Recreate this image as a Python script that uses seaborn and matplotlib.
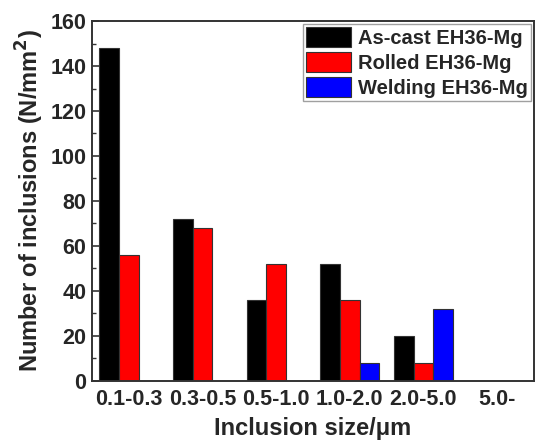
import matplotlib
matplotlib.use("Agg")
import matplotlib.pyplot as plt
import pandas as pd
import seaborn as sns
from matplotlib.ticker import MultipleLocator

categories = ["0.1-0.3", "0.3-0.5", "0.5-1.0", "1.0-2.0", "2.0-5.0", "5.0-"]
series = ["As-cast EH36-Mg", "Rolled EH36-Mg", "Welding EH36-Mg"]
as_cast = [148, 72, 36, 52, 20, 0]
rolled = [56, 68, 52, 36, 8, 0]
welding = [0, 0, 0, 8, 32, 0]
colors = ["#000000", "#ff0000", "#0000ff"]

rows = []
for name, values in zip(series, [as_cast, rolled, welding]):
    for cat, v in zip(categories, values):
        rows.append({"size": cat, "count": v, "sample": name})
df = pd.DataFrame(rows)

sns.set_style("ticks")
plt.rcParams["font.family"] = ["Liberation Sans", "DejaVu Sans"]
plt.rcParams["font.weight"] = "bold"

fig = plt.figure(figsize=(5.35, 4.41), dpi=100)
ax = fig.add_axes([0.172, 0.137, 0.826, 0.815])

sns.barplot(
    data=df,
    x="size",
    y="count",
    hue="sample",
    order=categories,
    hue_order=series,
    palette=colors,
    width=0.8,
    edgecolor="#333333",
    linewidth=0.8,
    saturation=1,
    ax=ax,
)

ax.set_xlim(-0.5, 5.5)
ax.set_ylim(0, 160)
ax.yaxis.set_major_locator(MultipleLocator(20))
ax.yaxis.set_minor_locator(MultipleLocator(10))
ax.tick_params(axis="y", which="major", direction="in", length=5, width=1.2,
               labelsize=15.5, color="#333333", pad=4)
ax.tick_params(axis="y", which="minor", direction="in", length=3, width=1.0,
               color="#333333")
ax.tick_params(axis="x", length=0, labelsize=15.5, pad=6)
for lbl in ax.get_xticklabels() + ax.get_yticklabels():
    lbl.set_fontweight("bold")

for side in ["left", "bottom", "top", "right"]:
    ax.spines[side].set_visible(True)
    ax.spines[side].set_linewidth(1.4)
    ax.spines[side].set_color("#333333")

ax.set_xlabel("Inclusion size/\u03bcm", fontsize=17, fontweight="bold", labelpad=5)
ax.set_ylabel("Number of inclusions (N/mm$^\\mathbf{2}$)", fontsize=17,
              fontweight="bold", labelpad=3)

leg = ax.legend(
    loc="upper right",
    fontsize=14.5,
    frameon=True,
    fancybox=False,
    edgecolor="#888888",
    handlelength=2.25,
    handleheight=1.15,
    handletextpad=0.35,
    labelspacing=0.2,
    borderpad=0.15,
    borderaxespad=0.15,
    title=None,
)
leg.get_frame().set_linewidth(1.0)
for t in leg.get_texts():
    t.set_fontweight("bold")

fig.savefig("out.png", dpi=100)
